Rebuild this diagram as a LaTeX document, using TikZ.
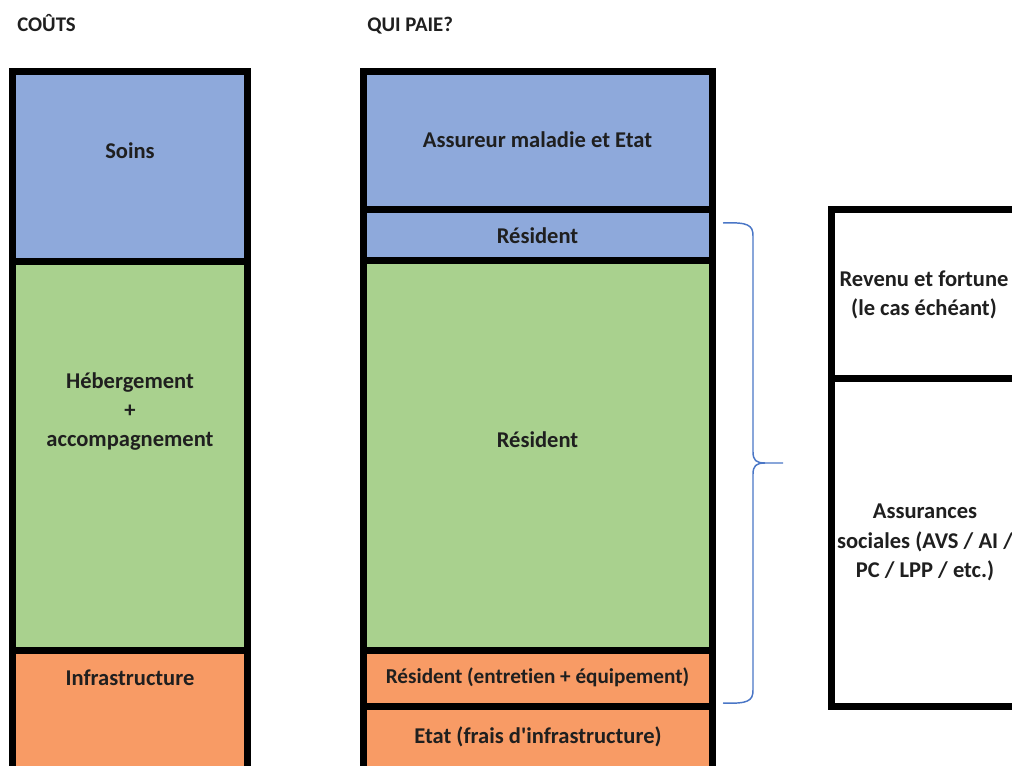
\documentclass[tikz,border=0pt]{standalone}
\usepackage{fontspec}
\setmainfont{Carlito}[Ligatures={NoCommon}]
\usetikzlibrary{fit}
\definecolor{cblue}{HTML}{8EA9DB}
\definecolor{cgreen}{HTML}{A9D18E}
\definecolor{corange}{HTML}{F89B65}
\definecolor{bracecol}{HTML}{4A76C6}
\definecolor{txt}{HTML}{1F1F1F}
\begin{document}
\begin{tikzpicture}[x=0.75pt,y=-0.75pt,
  box/.style={draw=black, line width=5.25pt, inner sep=0pt},
  lbl/.style={font=\fontsize{16.9}{22}\selectfont\bfseries, text=txt, align=center, inner sep=0pt},
  hdr/.style={font=\fontsize{15.6}{20}\selectfont\bfseries, text=txt, anchor=base west, inner sep=0pt},
  bracepath/.style={draw=bracecol, line width=1.1pt}]
\useasboundingbox (0,0) rectangle (1012,766);
\clip (0,0) rectangle (1012,766);
% headers
\node[hdr] (hcouts) at (17,31.5) {COÛTS};
\node[hdr] (hqui) at (367,31.5) {QUI PAIE?};
% left column
\node[box, fill=cblue, fit={(12.5,71.5)(247,262)}] (soins) {};
\node[box, fill=cgreen, fit={(12.5,262)(247,650)}] (heberg) {};
\node[box, fill=corange, fit={(12.5,650)(247,790)}] (infra) {};
% middle column
\node[box, fill=cblue, fit={(363,71.5)(712,210)}] (assur) {};
\node[box, fill=cblue, fit={(363,210)(712,261)}] (resb) {};
\node[box, fill=cgreen, fit={(363,261)(712,650)}] (resg) {};
\node[box, fill=corange, fit={(363,650)(712,706)}] (reso) {};
\node[box, fill=corange, fit={(363,706)(712,790)}] (etat) {};
% right column
\node[box, fill=white, fit={(831,210)(1020,378)}] (revenu) {};
\node[box, fill=white, fit={(831,378)(1020,706)}] (assoc) {};
% labels
\node[lbl] (tsoins) at (130,151) {Soins};
\node[lbl] (theberg) at (130,411.5) {Hébergement\\+\\accompagnement};
\node[lbl] (tinfra) at (130,678) {Infrastructure};
\node[lbl] (tassur) at (537.5,140) {Assureur maladie et Etat};
\node[lbl] (tresb) at (537.5,236) {Résident};
\node[lbl] (tresg) at (537.5,440) {Résident};
\node[lbl, font=\fontsize{15.9}{20}\selectfont\bfseries] (treso) at (537.5,677) {Résident (entretien + équipement)};
\node[lbl] (tetat) at (538,737) {Etat (frais d\textquotesingle infrastructure)};
\node[lbl] (trevenu) at (924,295) {Revenu et fortune\\(le cas échéant)};
\node[lbl] (tassoc) at (925,542.5) {Assurances\\sociales (AVS / AI /\\PC / LPP / etc.)};
% brace
\coordinate (bt) at (723,223);
\coordinate (bb) at (723,703);
\coordinate (bm) at (783,463);
\draw[bracepath] (bt) .. controls (748,222) and (753,225) .. (753,236)
  -- (753,452) .. controls (753,460) and (756,463) .. (765,463) -- (bm);
\draw[bracepath] (765,463) .. controls (756,463) and (753,466) .. (753,474)
  -- (753,690) .. controls (753,701) and (748,704) .. (bb);
\end{tikzpicture}
\end{document}
